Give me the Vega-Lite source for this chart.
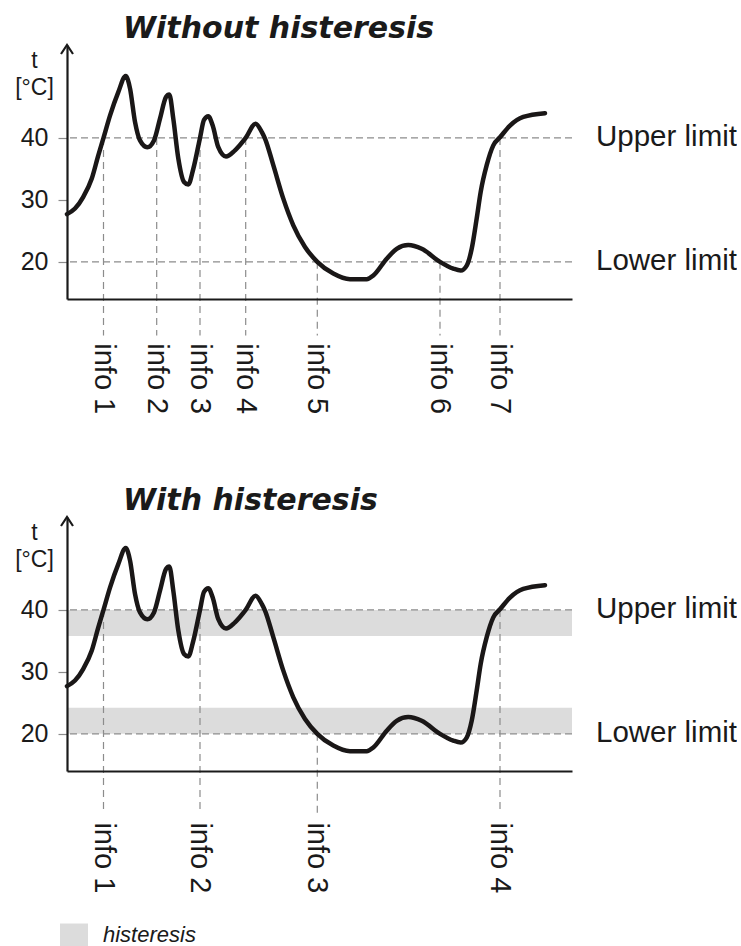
{
  "$schema": "https://vega.github.io/schema/vega-lite/v6.json",
  "usermeta": {"embedOptions": {"actions": false}},
  "padding": {"left": 14, "top": 13, "right": 0, "bottom": 0},
  "bounds": "flush",
  "spacing": 218,
  "config": {"view": {"stroke": null}, "font": "Liberation Sans"},
  "resolve": {"scale": {"color": "independent"}, "legend": {"color": "independent"}},
  "datasets": {
    "curve": [
      {"x": 0, "t": 27.7}, {"x": 8, "t": 28.6}, {"x": 16.3, "t": 30.5}, {"x": 24.7, "t": 33.4},
      {"x": 31.3, "t": 37.2}, {"x": 36.5, "t": 40}, {"x": 43, "t": 43.6}, {"x": 51.3, "t": 47.4},
      {"x": 58.7, "t": 50.0}, {"x": 63, "t": 48.0}, {"x": 68, "t": 42.6}, {"x": 73, "t": 39.6},
      {"x": 80.3, "t": 38.5}, {"x": 87, "t": 39.6}, {"x": 93, "t": 43.1}, {"x": 99, "t": 46.6},
      {"x": 102.3, "t": 47.0}, {"x": 106.3, "t": 43.1}, {"x": 111.3, "t": 36.7}, {"x": 117, "t": 32.9},
      {"x": 121.3, "t": 32.5}, {"x": 126.3, "t": 35.0}, {"x": 133, "t": 40}, {"x": 137, "t": 42.9},
      {"x": 141.3, "t": 43.5}, {"x": 145.7, "t": 42.0}, {"x": 151.3, "t": 38.5}, {"x": 159, "t": 37.0},
      {"x": 168, "t": 38.0}, {"x": 178.7, "t": 40}, {"x": 188.5, "t": 42.3}, {"x": 195, "t": 40.9},
      {"x": 198, "t": 39.9}, {"x": 206.3, "t": 35.6}, {"x": 216.3, "t": 30.2}, {"x": 226.3, "t": 25.9},
      {"x": 238, "t": 22.4}, {"x": 250.3, "t": 20.0}, {"x": 266.3, "t": 18.1}, {"x": 283, "t": 17.2},
      {"x": 299.7, "t": 17.2}, {"x": 306.3, "t": 17.8}, {"x": 319.7, "t": 20.5}, {"x": 329.7, "t": 22.1},
      {"x": 341.3, "t": 22.7}, {"x": 354.7, "t": 22.1}, {"x": 373, "t": 20.0}, {"x": 386.3, "t": 18.9},
      {"x": 393.7, "t": 18.6}, {"x": 399.7, "t": 19.4}, {"x": 404.7, "t": 22.1}, {"x": 409.7, "t": 27.0},
      {"x": 413.7, "t": 31.3}, {"x": 419.7, "t": 35.6}, {"x": 426.3, "t": 38.8}, {"x": 433, "t": 40.1},
      {"x": 443, "t": 42.0}, {"x": 456.3, "t": 43.4}, {"x": 478, "t": 44.0}
    ],
    "limits": [
      {"t": 40, "name": "Upper limit"},
      {"t": 20, "name": "Lower limit"}
    ],
    "info_without": [
      {"x": 36.5, "t": 40, "label": "info 1"},
      {"x": 89.7, "t": 40, "label": "info 2"},
      {"x": 133, "t": 40, "label": "info 3"},
      {"x": 178.7, "t": 40, "label": "info 4"},
      {"x": 250.3, "t": 20, "label": "info 5"},
      {"x": 373, "t": 20, "label": "info 6"},
      {"x": 433, "t": 40, "label": "info 7"}
    ],
    "info_with": [
      {"x": 36.5, "t": 40, "label": "info 1"},
      {"x": 133, "t": 40, "label": "info 2"},
      {"x": 250.3, "t": 20, "label": "info 3"},
      {"x": 433, "t": 40, "label": "info 4"}
    ],
    "bands": [
      {"t": 35.8, "t2": 40, "type": "histeresis"},
      {"t": 20, "t2": 24.2, "type": "histeresis"}
    ]
  },
  "vconcat": [
    {
      "width": 505,
      "height": 254,
      "title": {"text": "Without histeresis", "anchor": "start", "frame": "group", "dx": 56, "offset": -3, "font": "DejaVu Sans", "fontSize": 30, "fontWeight": "bold", "fontStyle": "italic", "color": "#1a1a1a"},
      "layer": [
        {
          "data": {"name": "limits"},
          "mark": {"type": "rule", "color": "#8c8c8c", "strokeWidth": 1.2, "strokeDash": [7, 4]},
          "encoding": {"y": {"field": "t", "type": "quantitative"}}
        },
        {
          "data": {"name": "limits"},
          "mark": {"type": "text", "align": "left", "baseline": "alphabetic", "dx": 24, "dy": 8, "fontSize": 29.5, "color": "#1a1a1a"},
          "encoding": {"x": {"value": "width"}, "y": {"field": "t", "type": "quantitative"}, "text": {"field": "name"}}
        },
        {
          "data": {"name": "info_without"},
          "mark": {"type": "rule", "color": "#8c8c8c", "strokeWidth": 1.2, "strokeDash": [7, 5]},
          "encoding": {"x": {"field": "x", "type": "quantitative"}, "y": {"field": "t", "type": "quantitative"}, "y2": {"datum": 8.1}}
        },
        {
          "data": {"name": "info_without"},
          "mark": {"type": "text", "angle": 90, "align": "left", "baseline": "middle", "fontSize": 29, "color": "#1a1a1a"},
          "encoding": {"x": {"field": "x", "type": "quantitative"}, "y": {"datum": 6.85}, "text": {"field": "label"}}
        },
        {
          "data": {"name": "curve"},
          "mark": {"type": "line", "interpolate": "monotone", "strokeWidth": 4.5, "color": "#1a1717", "strokeCap": "round"},
          "encoding": {
            "x": {"field": "x", "type": "quantitative", "scale": {"domain": [0, 505], "nice": false, "zero": false},
                  "axis": {"domain": true, "domainColor": "#1a1a1a", "domainWidth": 2.2, "ticks": false, "labels": false, "title": null, "grid": false, "zindex": 1}},
            "y": {"field": "t", "type": "quantitative", "scale": {"domain": [14, 55], "nice": false, "zero": false},
                  "axis": {"values": [20, 30, 40], "title": ["t", "[°C]"], "titleAngle": 0, "titleAlign": "center", "titleBaseline": "alphabetic", "titleX": -33, "titleY": 22, "titleFontSize": 23, "titleFontWeight": "normal", "titleLineHeight": 27, "titleColor": "#1a1a1a", "titleFont": "Liberation Sans", "domainColor": "#1a1a1a", "domainWidth": 2.2, "tickColor": "#8c8c8c", "tickSize": 9, "tickWidth": 1.2, "labelFontSize": 25, "labelColor": "#1a1a1a", "labelPadding": 10, "labelFont": "Liberation Sans", "grid": false, "zindex": 1}}
          }
        },
        {
          "data": {"values": [{}]},
          "mark": {"type": "point", "shape": "M-0.667,1L0,0L0.667,1", "size": 324, "filled": false, "stroke": "#1a1a1a", "strokeWidth": 2.2, "opacity": 1},
          "encoding": {"x": {"datum": 0, "type": "quantitative"}, "y": {"datum": 55, "type": "quantitative"}}
        }
      ]
    },
    {
      "width": 505,
      "height": 254,
      "title": {"text": "With histeresis", "anchor": "start", "frame": "group", "dx": 56, "offset": -3, "font": "DejaVu Sans", "fontSize": 30, "fontWeight": "bold", "fontStyle": "italic", "color": "#1a1a1a"},
      "layer": [
        {
          "data": {"name": "bands"},
          "mark": {"type": "rect", "opacity": 1},
          "encoding": {
            "y": {"field": "t", "type": "quantitative"},
            "y2": {"field": "t2"},
            "color": {"field": "type", "type": "nominal", "scale": {"range": ["#dcdcdc"]},
                      "legend": {"title": null, "orient": "none", "legendX": -5, "legendY": 406, "symbolType": "M-1.1667,-0.9583H1.1667V0.9583H-1.1667Z", "symbolSize": 576, "symbolStrokeWidth": 0, "symbolOpacity": 1, "labelFont": "Liberation Sans", "labelFontSize": 22, "labelFontStyle": "italic", "labelOffset": 17, "labelColor": "#1a1a1a", "padding": 0}}
          }
        },
        {
          "data": {"name": "limits"},
          "mark": {"type": "rule", "color": "#8c8c8c", "strokeWidth": 1.2, "strokeDash": [7, 4]},
          "encoding": {"y": {"field": "t", "type": "quantitative"}}
        },
        {
          "data": {"name": "limits"},
          "mark": {"type": "text", "align": "left", "baseline": "alphabetic", "dx": 24, "dy": 8, "fontSize": 29.5, "color": "#1a1a1a"},
          "encoding": {"x": {"value": "width"}, "y": {"field": "t", "type": "quantitative"}, "text": {"field": "name"}}
        },
        {
          "data": {"name": "info_with"},
          "mark": {"type": "rule", "color": "#8c8c8c", "strokeWidth": 1.2, "strokeDash": [7, 5]},
          "encoding": {"x": {"field": "x", "type": "quantitative"}, "y": {"field": "t", "type": "quantitative"}, "y2": {"datum": 7.1}}
        },
        {
          "data": {"name": "info_with"},
          "mark": {"type": "text", "angle": 90, "align": "left", "baseline": "middle", "fontSize": 29, "color": "#1a1a1a"},
          "encoding": {"x": {"field": "x", "type": "quantitative"}, "y": {"datum": 5.7}, "text": {"field": "label"}}
        },
        {
          "data": {"name": "curve"},
          "mark": {"type": "line", "interpolate": "monotone", "strokeWidth": 4.5, "color": "#1a1717", "strokeCap": "round"},
          "encoding": {
            "x": {"field": "x", "type": "quantitative", "scale": {"domain": [0, 505], "nice": false, "zero": false},
                  "axis": {"domain": true, "domainColor": "#1a1a1a", "domainWidth": 2.2, "ticks": false, "labels": false, "title": null, "grid": false, "zindex": 1}},
            "y": {"field": "t", "type": "quantitative", "scale": {"domain": [14, 55], "nice": false, "zero": false},
                  "axis": {"values": [20, 30, 40], "title": ["t", "[°C]"], "titleAngle": 0, "titleAlign": "center", "titleBaseline": "alphabetic", "titleX": -33, "titleY": 22, "titleFontSize": 23, "titleFontWeight": "normal", "titleLineHeight": 27, "titleColor": "#1a1a1a", "titleFont": "Liberation Sans", "domainColor": "#1a1a1a", "domainWidth": 2.2, "tickColor": "#8c8c8c", "tickSize": 9, "tickWidth": 1.2, "labelFontSize": 25, "labelColor": "#1a1a1a", "labelPadding": 10, "labelFont": "Liberation Sans", "grid": false, "zindex": 1}}
          }
        },
        {
          "data": {"values": [{}]},
          "mark": {"type": "point", "shape": "M-0.667,1L0,0L0.667,1", "size": 324, "filled": false, "stroke": "#1a1a1a", "strokeWidth": 2.2, "opacity": 1},
          "encoding": {"x": {"datum": 0, "type": "quantitative"}, "y": {"datum": 55, "type": "quantitative"}}
        }
      ]
    }
  ]
}
